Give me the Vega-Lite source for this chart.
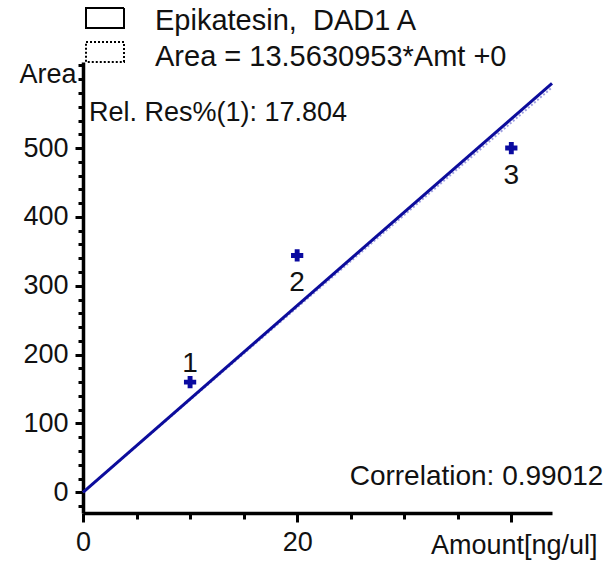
{
  "$schema": "https://vega.github.io/schema/vega-lite/v6.json",
  "autosize": {"type": "none"},
  "padding": {"left": 83, "top": 62, "right": 58, "bottom": 56},
  "width": 469,
  "height": 451,
  "background": "white",
  "config": {
    "view": {"stroke": null},
    "font": "Liberation Sans",
    "axis": {"grid": false, "domainColor": "black", "tickColor": "black", "labelColor": "#111", "titleColor": "#111", "labelFont": "Liberation Sans", "titleFont": "Liberation Sans", "titleFontWeight": "normal"}
  },
  "title": {
    "text": "Epikatesin,\u00a0\u00a0DAD1 A",
    "subtitle": "Area = 13.5630953*Amt +0",
    "anchor": "start",
    "frame": "group",
    "dx": 72,
    "dy": 68,
    "offset": -6,
    "fontSize": 29,
    "fontWeight": "normal",
    "font": "Liberation Sans",
    "color": "#111",
    "subtitleFontSize": 29,
    "subtitleFont": "Liberation Sans",
    "subtitleColor": "#111",
    "subtitlePadding": 7
  },
  "datasets": {
    "fit": [{"amt": 0, "area": 0}, {"amt": 43.8, "area": 594.1}],
    "fit2": [{"amt": 0, "area": 0}, {"amt": 43.8, "area": 588}],
    "key": [{"amt": 0, "area": 0, "k": "solid"}],
    "pts": [
      {"amt": 10, "area": 160, "label": "1"},
      {"amt": 20, "area": 344, "label": "2"},
      {"amt": 40, "area": 500, "label": "3"}
    ],
    "notes": [
      {"amt": 0.55, "area": 538.6, "text": "Rel. Res%(1): 17.804", "pos": "left"},
      {"amt": 48.6, "area": 11.3, "text": "Correlation: 0.99012", "pos": "right"}
    ]
  },
  "resolve": {"axis": {"x": "independent", "y": "independent"}},
  "layer": [
    {
      "data": {"name": "fit2"},
      "mark": {"type": "line", "strokeWidth": 2, "color": "#a0a0e0", "strokeDash": [2, 2]},
      "encoding": {
        "x": {"field": "amt", "type": "quantitative", "scale": {"domain": [0, 43.8], "nice": false, "zero": false},
          "axis": {"orient": "bottom", "values": [0, 20, 40], "labelExpr": "datum.value == 40 ? '' : datum.label", "tickSize": 9, "tickWidth": 3, "domainWidth": 3.5, "labelFontSize": 27, "labelPadding": 7, "labelFlush": false,
            "title": "Amount[ng/ul]", "titleFontSize": 27, "titleX": 514, "titleY": 32, "titleAlign": "right", "titleBaseline": "middle", "titleAnchor": null}},
        "y": {"field": "area", "type": "quantitative", "scale": {"domain": [-30, 625], "nice": false, "zero": false},
          "axis": {"orient": "left", "values": [0, 100, 200, 300, 400, 500], "tickSize": 8, "tickWidth": 3, "domainWidth": 3.5, "labelFontSize": 27, "labelPadding": 7,
            "title": "Area", "titleFontSize": 27, "titleAngle": 0, "titleX": -7, "titleY": 20, "titleAlign": "right", "titleBaseline": "alphabetic", "titleAnchor": null}}
      }
    },
    {
      "data": {"name": "fit"},
      "mark": {"type": "line", "strokeWidth": 3, "color": "#0c0c9c"},
      "encoding": {
        "x": {"field": "amt", "type": "quantitative",
          "axis": {"orient": "bottom", "values": [5, 10, 15, 25, 30, 35], "labels": false, "domain": false, "tickSize": 6, "tickWidth": 3, "title": null}},
        "y": {"field": "area", "type": "quantitative",
          "axis": {"orient": "left", "values": [-20, 20, 40, 60, 80, 120, 140, 160, 180, 220, 240, 260, 280, 320, 340, 360, 380, 420, 440, 460, 480, 520, 540, 560, 580, 600, 620], "labels": false, "domain": false, "tickSize": 5, "tickWidth": 3, "title": null}}
      }
    },
    {
      "data": {"name": "key"},
      "mark": {"type": "line", "strokeWidth": 2, "color": "black"},
      "encoding": {
        "x": {"field": "amt", "type": "quantitative", "axis": null},
        "y": {"field": "area", "type": "quantitative", "axis": null},
        "strokeDash": {"field": "k", "type": "nominal",
          "scale": {"domain": ["solid", "dotted"], "range": [[1, 0], [2, 2]]},
          "legend": {"orient": "none", "legendX": 2, "legendY": -64, "title": null, "labelExpr": "''", "symbolType": "M-1,-0.52H1V0.52H-1Z", "symbolSize": 1444, "symbolStrokeWidth": 2, "symbolStrokeColor": "black", "symbolFillColor": "white", "rowPadding": -13, "labelFontSize": 1}}
      }
    },
    {
      "data": {"name": "pts"},
      "mark": {"type": "point", "shape": "cross", "filled": true, "size": 150, "color": "#0a0aa0", "opacity": 1},
      "encoding": {
        "x": {"field": "amt", "type": "quantitative", "axis": null},
        "y": {"field": "area", "type": "quantitative", "axis": null}
      }
    },
    {
      "data": {"name": "pts"},
      "transform": [{"filter": "datum.label == '1'"}],
      "mark": {"type": "text", "fontSize": 28, "dy": -18, "color": "#111", "font": "Liberation Sans"},
      "encoding": {
        "x": {"field": "amt", "type": "quantitative", "axis": null},
        "y": {"field": "area", "type": "quantitative", "axis": null},
        "text": {"field": "label"}
      }
    },
    {
      "data": {"name": "pts"},
      "transform": [{"filter": "datum.label != '1'"}],
      "mark": {"type": "text", "fontSize": 28, "dy": 28, "color": "#111", "font": "Liberation Sans"},
      "encoding": {
        "x": {"field": "amt", "type": "quantitative", "axis": null},
        "y": {"field": "area", "type": "quantitative", "axis": null},
        "text": {"field": "label"}
      }
    },
    {
      "data": {"name": "notes"},
      "transform": [{"filter": "datum.pos == 'left'"}],
      "mark": {"type": "text", "fontSize": 27, "align": "left", "baseline": "alphabetic", "color": "#111", "font": "Liberation Sans"},
      "encoding": {
        "x": {"field": "amt", "type": "quantitative", "axis": null},
        "y": {"field": "area", "type": "quantitative", "axis": null},
        "text": {"field": "text"}
      }
    },
    {
      "data": {"name": "notes"},
      "transform": [{"filter": "datum.pos == 'right'"}],
      "mark": {"type": "text", "fontSize": 28, "align": "right", "baseline": "alphabetic", "color": "#111", "font": "Liberation Sans"},
      "encoding": {
        "x": {"field": "amt", "type": "quantitative", "axis": null},
        "y": {"field": "area", "type": "quantitative", "axis": null},
        "text": {"field": "text"}
      }
    }
  ]
}
